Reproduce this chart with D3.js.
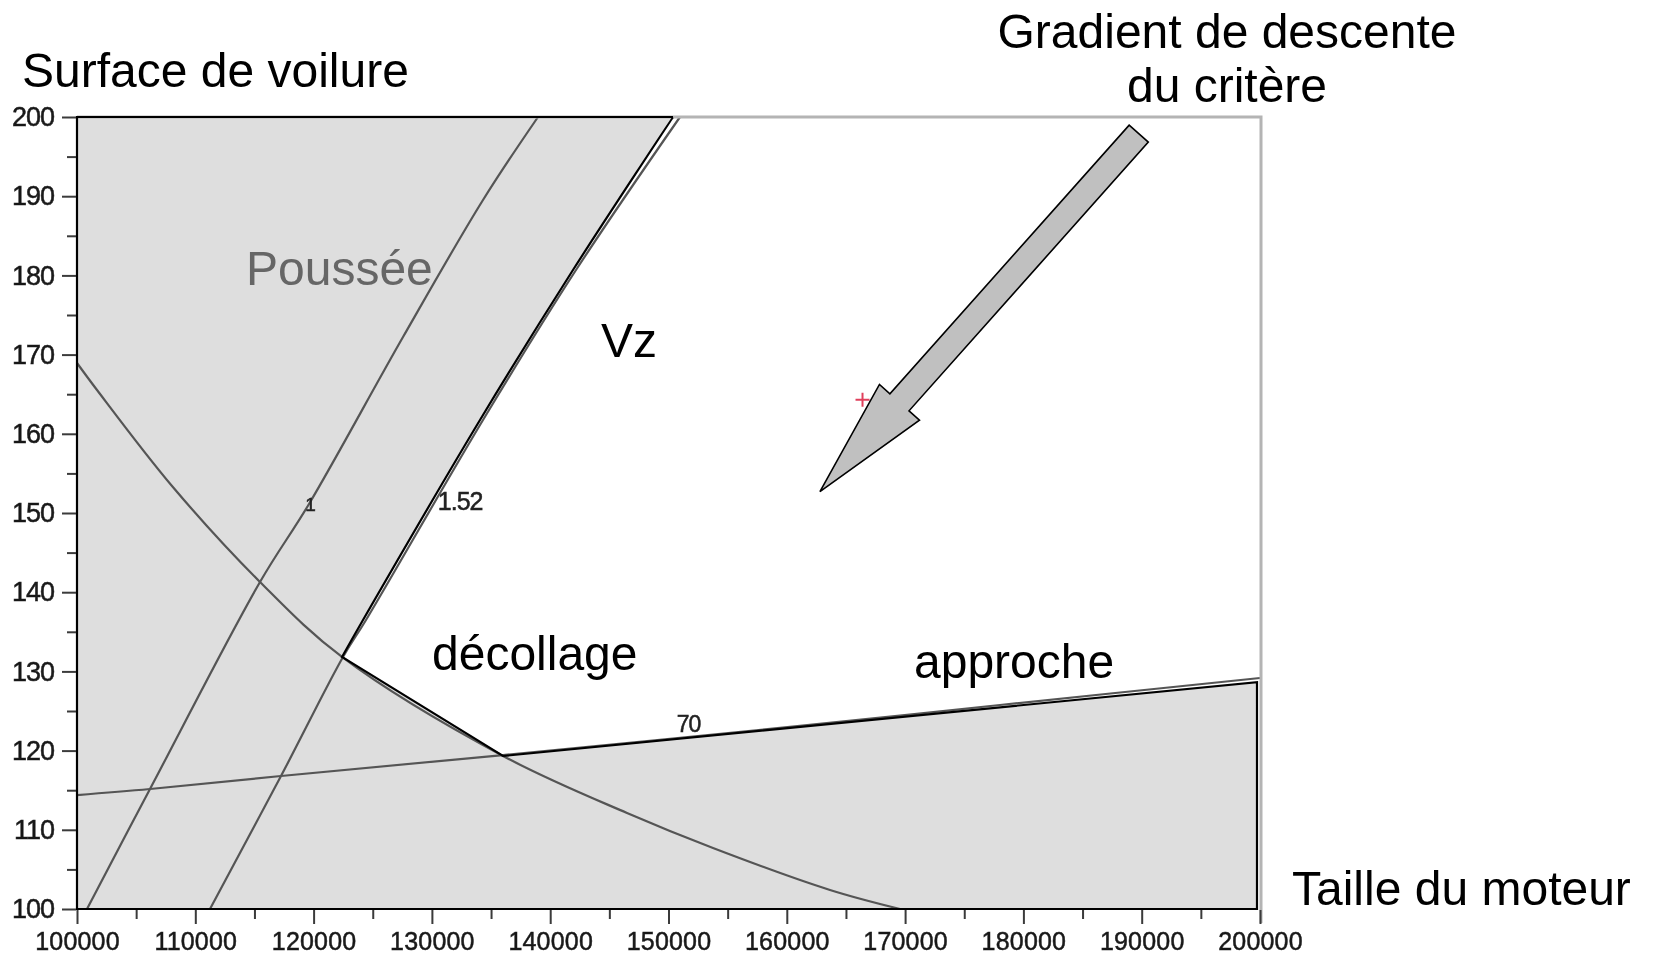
<!DOCTYPE html>
<html>
<head>
<meta charset="utf-8">
<script src="https://cdn.jsdelivr.net/npm/d3@7"></script>
<style>
  body { margin: 0; background: #fff; }
  svg text { font-family: "Liberation Sans", Arial, Helvetica, sans-serif; }
</style>
</head>
<body>
<svg id="chart" width="1655" height="957"></svg>
<script>
// ---- axis ticks ---------------------------------------------------------
const xTicks = [100000, 110000, 120000, 130000, 140000, 150000, 160000, 170000, 180000, 190000, 200000];
const xMinorTicks = [105000, 115000, 125000, 135000, 145000, 155000, 165000, 175000, 185000, 195000];
const yTicks = [100, 110, 120, 130, 140, 150, 160, 170, 180, 190, 200];
const yMinorTicks = [105, 115, 125, 135, 145, 155, 165, 175, 185, 195];

// ---- constraint contours: [taille du moteur, surface de voilure] --------
const pousseeCurve = [[100845, 100], [106171, 115.15], [115469, 141.29], [119611, 151.14],
                      [127557, 172.22], [134319, 189.52], [138968, 200]];
const vzCurve = [[111242, 100], [117244, 116.79], [122485, 131.82], [124429, 136.49],
                 [134319, 161.74], [142180, 180.68], [150972, 200]];
const decollageCurve = [[100000, 168.94], [101691, 165.53], [108030, 153.41], [115469, 141.29],
                        [122401, 131.82], [136010, 119.32], [146492, 112.12], [153761, 107.70],
                        [163651, 102.40], [169568, 100]];
const approcheCurve = [[100000, 114.39], [106171, 115.15], [117244, 116.79], [136010, 119.44],
                       [161115, 123.11], [178021, 125.76], [200000, 129.17]];

// ---- boundary of the feasible domain -----------------------------------
const vzBound = [[150380, 200], [141926, 180.68], [134066, 161.74], [124176, 136.49], [122401, 131.82]];
const decollageBound = [[122401, 131.82], [136010, 119.32]];
const approcheBound = [[136010, 119.32], [199746, 128.64]];

// contour values written on the curves
const contourLabels = [
  { text: "1", at: [119300, 150.2], size: 19 },
  { text: "1.52", at: [130500, 150.4], size: 25 },
  { text: "70", at: [150700, 122.4], size: 23 }
];

// current design point and descent direction
const designPoint = [166400, 164.3];
const gradientTail = [189750, 197.9];
const gradientTip = [162800, 152.7];

// ---- scales ------------------------------------------------------------
const svg = d3.select("#chart");
const x = d3.scaleLinear().domain([100000, 200000]).range([77, 1260]);
const y = d3.scaleLinear().domain([100, 200]).range([909, 117]);

const defs = svg.append("defs");
defs.append("clipPath").attr("id", "plotClip")
  .append("rect").attr("x", x(100000)).attr("y", y(200))
  .attr("width", x(200000) - x(100000) + 2).attr("height", y(100) - y(200));
defs.append("filter").attr("id", "soft").attr("x", "-5%").attr("y", "-5%").attr("width", "110%").attr("height", "110%")
  .append("feGaussianBlur").attr("stdDeviation", 0.6);

const lineSmooth = d3.line().x(d => x(d[0])).y(d => y(d[1])).curve(d3.curveCatmullRom.alpha(0.5));

// infeasible region: Vz side smoothed, other sides straight
function regionD() {
  const top = `M${x(100000)},${y(200)}L${x(vzBound[0][0])},${y(vzBound[0][1])}`;
  const vz = lineSmooth(vzBound).replace(/^M[^CL]*/, "");
  const rest = [decollageBound[1], approcheBound[1], [approcheBound[1][0], 100], [100000, 100]]
    .map(d => `L${x(d[0])},${y(d[1])}`).join("");
  return top + vz + rest + "Z";
}

svg.append("path").attr("d", regionD()).attr("fill", "#dedede").attr("stroke", "none");

// contour curves
const contours = svg.append("g").attr("clip-path", "url(#plotClip)").attr("filter", "url(#soft)");
[pousseeCurve, vzCurve, decollageCurve, approcheCurve].forEach(c => {
  contours.append("path").attr("d", lineSmooth(c))
    .attr("fill", "none").attr("stroke", "#555").attr("stroke-width", 2.2);
});

// plot frame (top and right edges)
svg.append("path")
  .attr("d", `M${x(100000)},${y(200)}H${x(200000) + 1}V${y(100) + 14}`)
  .attr("fill", "none").attr("stroke", "#b4b4b4").attr("stroke-width", 3)
  .attr("filter", "url(#soft)");

// backing box of the take-off label
svg.append("rect").attr("x", 412).attr("y", 628).attr("width", 228).attr("height", 62).attr("fill", "#fff");

// black outline of the infeasible region
svg.append("path").attr("d", regionD()).attr("fill", "none")
  .attr("stroke", "#000").attr("stroke-width", 2.2).attr("stroke-linejoin", "miter");

// ---- axes --------------------------------------------------------------
const axesG = svg.append("g").attr("filter", "url(#soft)");
const yAxis = axesG.append("g").attr("transform", `translate(${x(100000) - 1},0)`)
  .call(d3.axisLeft(y).tickValues(yTicks).tickSize(14).tickPadding(8).tickFormat(d3.format("d")));
axesG.append("g").attr("transform", `translate(${x(100000) - 1},0)`)
  .call(d3.axisLeft(y).tickValues(yMinorTicks).tickSize(9).tickFormat(""));
const xAxis = axesG.append("g").attr("transform", `translate(0,${y(100) + 1})`)
  .call(d3.axisBottom(x).tickValues(xTicks).tickSize(14).tickPadding(8).tickFormat(d3.format("d")));
axesG.append("g").attr("transform", `translate(0,${y(100) + 1})`)
  .call(d3.axisBottom(x).tickValues(xMinorTicks).tickSize(9).tickFormat(""));
axesG.selectAll(".domain").remove();
axesG.selectAll(".tick line").attr("stroke", "#3a3a3a").attr("stroke-width", 2);
axesG.selectAll(".tick text").attr("fill", "#1a1a1a").attr("stroke", "#1a1a1a").attr("stroke-width", 0.5);
yAxis.selectAll("text").attr("font-size", 27).attr("letter-spacing", -1);
xAxis.selectAll("text").attr("font-size", 25).attr("letter-spacing", 0.2);

// contour values
svg.append("g").attr("filter", "url(#soft)").selectAll("text").data(contourLabels).join("text")
  .attr("x", d => x(d.at[0])).attr("y", d => y(d.at[1]))
  .attr("font-size", d => d.size).attr("fill", "#222").attr("stroke", "#222").attr("stroke-width", 0.5)
  .attr("letter-spacing", -1)
  .text(d => d.text);

// design point
const px = x(designPoint[0]), py = y(designPoint[1]);
svg.append("path").attr("d", `M${px - 7},${py}H${px + 7}M${px},${py - 7}V${py + 7}`)
  .attr("stroke", "#e0405c").attr("stroke-width", 2).attr("fill", "none");

// descent direction arrow
(function drawArrow() {
  const tx = x(gradientTail[0]), ty = y(gradientTail[1]);
  const hx = x(gradientTip[0]), hy = y(gradientTip[1]);
  const len = Math.hypot(hx - tx, hy - ty);
  const ux = (hx - tx) / len, uy = (hy - ty) / len;
  const nx = -uy, ny = ux;
  const shaft = 12.8, head = 26.8, headLen = 119.6;
  const bx = hx - ux * headLen, by = hy - uy * headLen;
  const pts = [
    [tx + nx * shaft, ty + ny * shaft],
    [bx + nx * shaft, by + ny * shaft],
    [bx + nx * head, by + ny * head],
    [hx, hy],
    [bx - nx * head, by - ny * head],
    [bx - nx * shaft, by - ny * shaft],
    [tx - nx * shaft, ty - ny * shaft]
  ];
  svg.append("polygon").attr("points", pts.map(p => p.join(",")).join(" "))
    .attr("fill", "#c0c0c0").attr("stroke", "#000").attr("stroke-width", 1.6)
    .attr("stroke-linejoin", "miter");
})();

// ---- annotations ---------------------------------------------------------
const notes = [
  { t: "Surface de voilure", x: 22, y: 87, anchor: "start", fill: "#000" },
  { t: "Gradient de descente", x: 1227, y: 48, anchor: "middle", fill: "#000" },
  { t: "du critère", x: 1227, y: 102, anchor: "middle", fill: "#000" },
  { t: "Poussée", x: 246, y: 285, anchor: "start", fill: "#666" },
  { t: "Vz", x: 601, y: 357, anchor: "start", fill: "#000" },
  { t: "décollage", x: 432, y: 670, anchor: "start", fill: "#000" },
  { t: "approche", x: 914, y: 678, anchor: "start", fill: "#000" },
  { t: "Taille du moteur", x: 1292, y: 905, anchor: "start", fill: "#000" }
];
svg.append("g").selectAll("text").data(notes).join("text")
  .attr("x", d => d.x).attr("y", d => d.y).attr("text-anchor", d => d.anchor)
  .attr("font-size", 48).attr("fill", d => d.fill).text(d => d.t);
</script>
</body>
</html>
